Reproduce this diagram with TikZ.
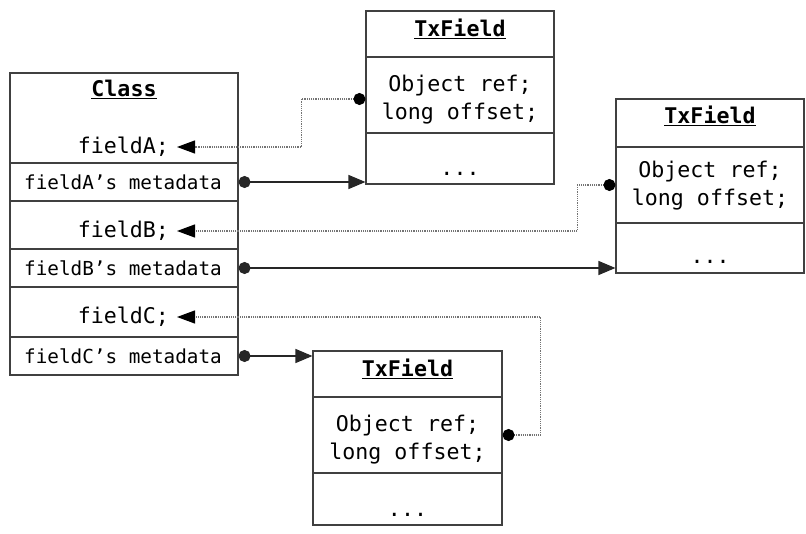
\documentclass[tikz,border=0pt]{standalone}
\usepackage{fontspec}
\newfontfamily\mono{DejaVu Sans Mono}
\usetikzlibrary{arrows.meta}
\begin{document}
\begin{tikzpicture}[x=1pt,y=-1pt,
  comp/.style={draw=black!75,line width=1.1pt,inner sep=0pt,minimum width=#1},
  txt/.style={font=\mono\fontsize{21.6}{28}\selectfont,inner sep=0pt,align=center},
  meta/.style={font=\mono\fontsize{19.3}{22}\selectfont,inner sep=0pt},
  fld/.style={font=\mono\fontsize{21.6}{24}\selectfont,inner ysep=0pt,inner xsep=8pt,anchor=east},
  ttl/.style={font=\mono\bfseries\fontsize{21.6}{24}\selectfont,inner sep=0pt},
  solidcon/.style={line width=1.2pt,black!85,{Circle[length=12pt]}-{Triangle[length=17pt,width=14pt]}},
  dotcon/.style={line width=1.2pt,black!55,densely dotted,{Circle[length=12pt,black]}-{Triangle[length=18pt,width=13pt,black]}}
]
\useasboundingbox (0,0) rectangle (806,534);
% Class box
\node[comp=228pt,minimum height=90pt] (c1) at (124,118) {};
\node[comp=228pt,minimum height=38pt] (c2) at (124,182) {};
\node[comp=228pt,minimum height=48pt] (c3) at (124,225) {};
\node[comp=228pt,minimum height=38pt] (c4) at (124,268) {};
\node[comp=228pt,minimum height=50pt] (c5) at (124,312) {};
\node[comp=228pt,minimum height=38pt] (c6) at (124,356) {};
\node[ttl] (clsT) at (124,89) {\underline{Class}};
\node[fld] (fA) at (177,147) {fieldA;};
\node[fld] (fB) at (177,231) {fieldB;};
\node[fld] (fC) at (177,317) {fieldC;};
\node[meta] (mA) at (123,182) {fieldA’s metadata};
\node[meta] (mB) at (123,268) {fieldB’s metadata};
\node[meta] (mC) at (123,356) {fieldC’s metadata};
% TxField A
\node[comp=188pt,minimum height=46pt] (tA) at (460,34) {};
\node[comp=188pt,minimum height=76pt] (bA) at (460,95) {};
\node[comp=188pt,minimum height=51pt] (dA) at (460,158.5) {};
\node[ttl] at (460,29) {\underline{TxField}};
\node[txt] at (460,100) {Object ref;\\long offset;};
\node[txt] at (460,174) {...};
% TxField B
\node[comp=188pt,minimum height=48pt] (tB) at (710,123) {};
\node[comp=188pt,minimum height=76pt] (bB) at (710,185) {};
\node[comp=188pt,minimum height=50pt] (dB) at (710,248) {};
\node[ttl] at (710,116) {\underline{TxField}};
\node[txt] at (710,186) {Object ref;\\long offset;};
\node[txt] at (710,262) {...};
% TxField C
\node[comp=189pt,minimum height=46pt] (tC) at (407.5,374) {};
\node[comp=189pt,minimum height=76pt] (bC) at (407.5,435) {};
\node[comp=189pt,minimum height=52pt] (dC) at (407.5,499) {};
\node[ttl] at (407.5,369) {\underline{TxField}};
\node[txt] at (407.5,440) {Object ref;\\long offset;};
\node[txt] at (407.5,515) {...};
% connectors
\draw[solidcon] (c2.east) -- (c2.east -| dA.west);
\draw[solidcon] (c4.east) -- (c4.east -| dB.west);
\draw[solidcon] (c6.east) -- (c6.east -| tC.west);
\draw[dotcon] ([yshift=-4pt]bA.west) -- ++(-64,0) |- (fA.east);
\draw[dotcon] (bB.west) -- ++(-38,0) |- (fB.east);
\draw[dotcon] (bC.east) -- ++(38,0) |- (fC.east);
\end{tikzpicture}
\end{document}
